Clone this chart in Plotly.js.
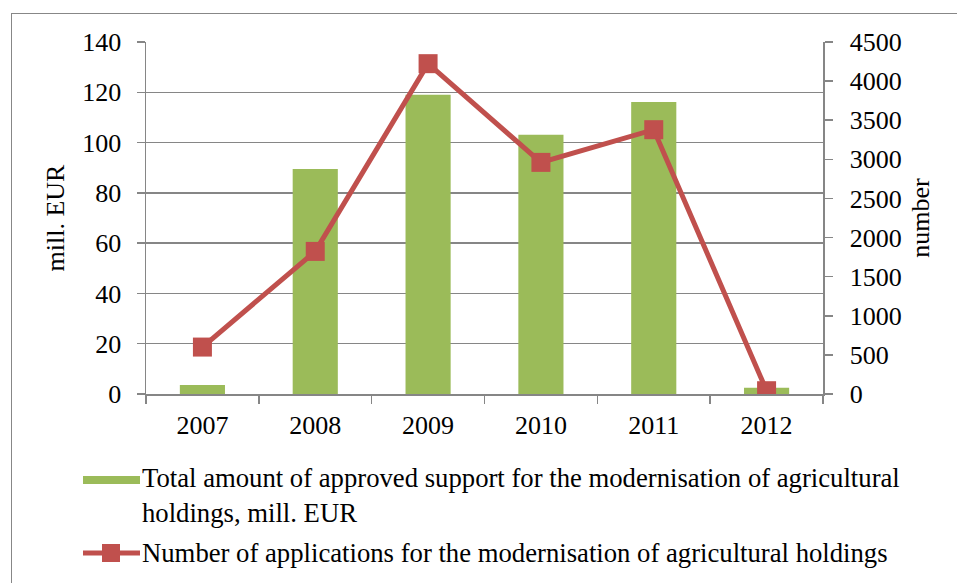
<!DOCTYPE html>
<html>
<head>
<meta charset="utf-8">
<script src="https://cdn.plot.ly/plotly-3.0.1.min.js"></script>
<style>
  html, body { margin: 0; padding: 0; background: #fff; }
  #wrap { position: relative; width: 957px; height: 583px; overflow: hidden; }
  #chart { position: absolute; left: 0; top: 0; width: 957px; height: 583px; }
  #frame { position: absolute; left: 11px; top: 13px; width: 2000px; height: 2000px;
           border-left: 1.5px solid #878787; border-top: 1.5px solid #878787; pointer-events: none; }
</style>
</head>
<body>
<div id="wrap">
  <div id="chart"></div>
  <div id="frame"></div>
</div>
<script>
// ---- data ----
const years = ['2007', '2008', '2009', '2010', '2011', '2012'];
const supportMillEUR = [3.6, 89.5, 119, 103.1, 116.1, 2.5];
const applications = [600, 1823, 4223, 2961, 3379, 42];
const seriesNames = [
  'Total amount of approved support for the modernisation of agricultural<br>holdings, mill. EUR',
  'Number of applications for the modernisation of agricultural holdings'
];
const leftTicks = [0, 20, 40, 60, 80, 100, 120, 140];
const rightTicks = [0, 500, 1000, 1500, 2000, 2500, 3000, 3500, 4000, 4500];

const green = '#9BBB59';
const red = '#C0504D';
const grid = '#868686';
const fam = 'Liberation Serif';
const F = (s) => ({ family: fam, size: s || 26, color: '#000000' });

const traces = [
  {
    type: 'bar', x: years, y: supportMillEUR, name: seriesNames[0],
    marker: { color: green }, yaxis: 'y', showlegend: false
  },
  {
    type: 'scatter', mode: 'lines+markers', x: years, y: applications, name: seriesNames[1],
    line: { color: red, width: 5 },
    marker: { symbol: 'square', size: 19, color: red },
    yaxis: 'y2', showlegend: false
  }
];

// plot area: x 146..823, y 42..394
const L = 146, R = 823, T = 42, B = 394, W = 957, H = 583;
const px = v => (v - L) / (R - L);
const py = v => (B - v) / (B - T);

const layout = {
  width: W, height: H,
  margin: { l: L, r: W - R, t: T, b: H - B, pad: 0 },
  paper_bgcolor: 'rgba(0,0,0,0)', plot_bgcolor: '#fff',
  font: F(),
  bargap: 0.6,
  showlegend: false,
  xaxis: {
    type: 'category', showgrid: false, showline: true, linecolor: grid, linewidth: 1.5,
    ticks: 'outside', tickson: 'boundaries', ticklen: 8, tickcolor: grid, tickwidth: 1.5,
    ticklabelstandoff: 7, tickfont: F(), automargin: false
  },
  yaxis: {
    range: [0, 140], tickvals: leftTicks, showgrid: true, gridcolor: grid, gridwidth: 1.5,
    showline: true, linecolor: grid, linewidth: 1.5, zeroline: false,
    ticks: 'outside', ticklen: 8, tickcolor: grid, tickwidth: 1.5, ticklabelstandoff: 10,
    tickfont: F(),
    title: { text: 'mill. EUR', standoff: 10, font: F() }, automargin: false
  },
  yaxis2: {
    range: [0, 4500], tickvals: rightTicks, overlaying: 'y', side: 'right', showgrid: false,
    showline: true, linecolor: grid, linewidth: 1.5, zeroline: false,
    ticks: 'outside', ticklen: 8, tickcolor: grid, tickwidth: 1.5, ticklabelstandoff: 12,
    tickfont: F(),
    title: { text: 'number', standoff: 10, font: F() }, automargin: false
  },
  shapes: [
    { type: 'rect', xref: 'paper', yref: 'paper', x0: px(83), x1: px(140), y0: py(476), y1: py(484),
      fillcolor: green, line: { width: 0 } },
    { type: 'line', xref: 'paper', yref: 'paper', x0: px(83), x1: px(140), y0: py(553), y1: py(553),
      line: { color: red, width: 5 } },
    { type: 'rect', xref: 'paper', yref: 'paper', x0: px(102), x1: px(120), y0: py(544), y1: py(562),
      fillcolor: red, line: { width: 0 } }
  ],
  annotations: [
    { xref: 'paper', yref: 'paper', x: px(140), y: py(495), xanchor: 'left', yanchor: 'middle',
      align: 'left', showarrow: false, text: seriesNames[0], font: F(26.7) },
    { xref: 'paper', yref: 'paper', x: px(140), y: py(553), xanchor: 'left', yanchor: 'middle',
      align: 'left', showarrow: false, text: seriesNames[1], font: F(26.7) }
  ]
};

Plotly.newPlot('chart', traces, layout, { displayModeBar: false, staticPlot: true });
</script>
</body>
</html>
